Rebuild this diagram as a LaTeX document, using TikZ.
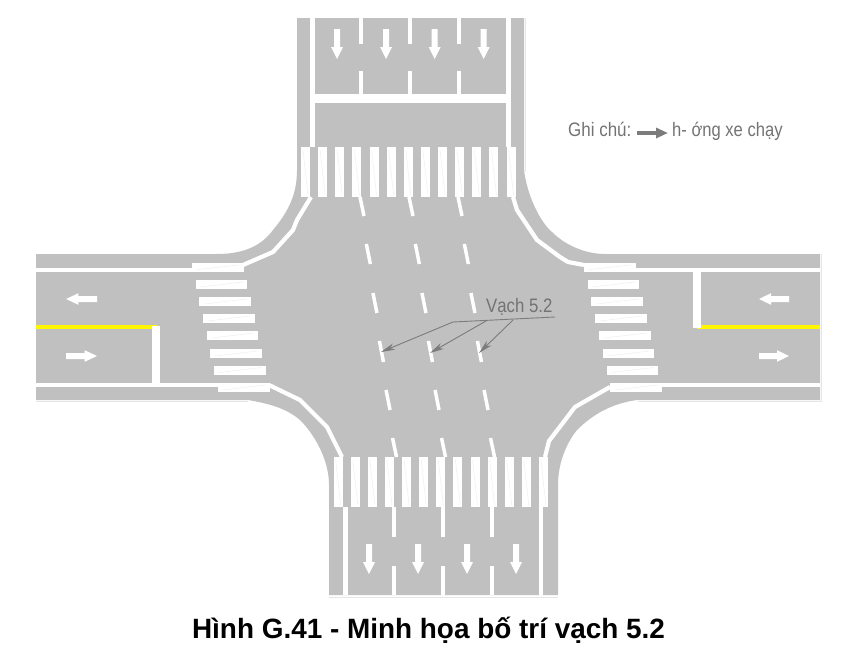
\documentclass[tikz,border=0pt]{standalone}
\usepackage{fontspec}
\usepackage{graphicx}
\setmainfont{Liberation Sans}
\usetikzlibrary{arrows.meta}
\definecolor{road}{HTML}{C0C0C0}
\definecolor{faint}{HTML}{E6E6E6}
\definecolor{fainter}{HTML}{F1F1F1}
\definecolor{lead}{HTML}{7C7C7C}
\definecolor{labelgray}{HTML}{737373}
\definecolor{yel}{HTML}{FFF600}
\tikzset{
  mark line/.style={draw=white,line width=4.4pt},
  lane line/.style={draw=white,line width=3.5pt},
  curb line/.style={draw=white,line width=4.2pt,line join=miter},
  yellow line/.style={draw=yel,line width=4pt},
  stripe/.style={fill=white,draw=none},
  faint line/.style={draw=faint,line width=.7pt},
  stripe line/.style={draw=fainter,line width=.6pt},
  lanearrow/.style={fill=white,draw=none},
  leader/.style={draw=lead,line width=.9pt},
  leader tip/.style={draw=lead,line width=.9pt,-{Stealth[length=14pt,width=6.5pt,inset=4pt,fill=lead]}},
  grey label/.style={text=labelgray,inner sep=0pt,font=\fontsize{19.5}{22}\selectfont},
}
\newcommand{\downarrowshape}[2]{\fill[lanearrow] (#1-3,#2) -- (#1+3,#2) -- (#1+3,#2+18) -- (#1+6,#2+18) -- (#1,#2+30) -- (#1-6,#2+18) -- (#1-3,#2+18) -- cycle;}
\newcommand{\horizarrowshape}[3]{\fill[lanearrow] (#1,#3-3) -- ({#1+(#2-#1)*0.6},#3-3) -- ({#1+(#2-#1)*0.6},#3-5.8) -- (#2,#3) -- ({#1+(#2-#1)*0.6},#3+5.8) -- ({#1+(#2-#1)*0.6},#3+3) -- (#1,#3+3) -- cycle;}
\begin{document}
\begin{tikzpicture}[x=1pt,y=-1pt]
\useasboundingbox (0,0) rectangle (860,651);
% road surface
\fill[road] (297,18) -- (524,18) -- (524,170)
  .. controls (527,195) and (540,222) .. (552,232)
  .. controls (565,245) and (585,254) .. (605,254)
  -- (820,254) -- (820,400) -- (637,400)
  .. controls (615,403) and (595,412) .. (577,430)
  .. controls (565,445) and (558,465) .. (558,485)
  -- (558,595) -- (329,595) -- (329,485)
  .. controls (329,460) and (315,435) .. (300,420)
  .. controls (285,407) and (265,403) .. (248,400)
  -- (36,400) -- (36,254) -- (217,254)
  .. controls (245,254) and (262,245) .. (273,230)
  .. controls (288,212) and (297,195) .. (297,170)
  -- cycle;
% faint outline
\draw[faint line] (525,18) -- (525,172);
\draw[faint line] (36,401) -- (248,401);
\draw[faint line] (638,401) -- (821,401) -- (821,254);
\draw[faint line] (329,597) -- (558,597);
% top arm
\draw[mark line] (312.5,18) -- (312.5,147);
\draw[mark line] (508.5,18) -- (508.5,147);
\foreach \x in {361,410,459}{
  \draw[lane line] (\x,18) -- (\x,44);
  \draw[lane line] (\x,71) -- (\x,94);
}
\fill[stripe] (312,94) rectangle (511,102.5);
\foreach \x in {337,386,434.7,483.7}{\downarrowshape{\x}{29}}
\foreach \i in {0,...,12}{
  \fill[stripe] ({301+17.13*\i},147) rectangle ({310+17.13*\i},197);
  \draw[stripe line] ({303+17.13*\i},150) -- ({308+17.13*\i},195);
}
% bottom arm
\foreach \i in {0,...,12}{
  \fill[stripe] ({333.7+17.1*\i},457) rectangle ({342.7+17.1*\i},507);
  \draw[stripe line] ({335.7+17.1*\i},460) -- ({340.7+17.1*\i},505);
}
\draw[mark line] (345.5,507) -- (345.5,595);
\draw[mark line] (541,507) -- (541,595);
\foreach \x in {394,443,492}{
  \draw[lane line] (\x,507) -- (\x,537);
  \draw[lane line] (\x,566) -- (\x,595);
}
\foreach \x in {369,418,467,516}{\downarrowshape{\x}{544}}
% left arm
\draw[mark line] (36,270) -- (193,270);
\draw[mark line] (36,385) -- (218,385);
\draw[yellow line] (36,327) -- (157,327);
\fill[stripe] (152,326) rectangle (160,384);
\horizarrowshape{97}{66}{299}
\horizarrowshape{66}{97}{356}
% right arm
\draw[mark line] (635,270) -- (820,270);
\draw[mark line] (660,385) -- (820,385);
\draw[yellow line] (697,327) -- (820,327);
\fill[stripe] (693,268) rectangle (701,328);
\horizarrowshape{789}{759}{299}
\horizarrowshape{759}{789}{356}
% side crossings
\foreach \xa/\ya/\yb in {192/263/271.5,195.5/280/289,199.3/297/306,203/314/323,206.6/331/340,210.4/349/358,214.2/365.5/374.5,218/383/392}{
  \fill[stripe] (\xa,\ya) rectangle (\xa+51.5,\yb);
  \draw[stripe line] (\xa+5,\yb-2) -- (\xa+47,\ya+2);
}
\foreach \xa/\ya/\yb in {584/263/271.5,587.5/280/289,591.3/297/306,595/314/323,599/331/340,602.7/349/358,606.5/365.5/374.5,610.3/383/392}{
  \fill[stripe] (\xa,\ya) rectangle (\xa+51.5,\yb);
  \draw[stripe line] (\xa+5,\yb-2) -- (\xa+47,\ya+2);
}
% curb lines at corners
\draw[curb line] (311,197) -- (297,220) -- (293,230) -- (273,252) -- (243,265);
\draw[curb line] (513,197) -- (517,210) -- (537,240) -- (560,257) -- (568,262) -- (584,265);
\draw[curb line] (269,385) -- (300,400) -- (327,427) -- (342,457);
\draw[curb line] (545,457) -- (549,441) -- (575,407) -- (610,387);
% slanted centre dashes
\foreach \d in {0,49,98}{
  \foreach \ya/\yb in {197/216,244/264,293/313,341/362,390/410,438/457}{
    \draw[lane line] ({360+\d+(\ya-197)*0.135},\ya) -- ({364+\d+(\ya-197)*0.135},\yb);
  }
}
% labels
\node[grey label,anchor=base west] (vach) at (486,312) {\scalebox{.86}[1]{Vạch 5.2}};
\coordinate (leadR) at (555,317);
\coordinate (leadM) at (453,322);
\coordinate (leadB1) at (486,321);
\coordinate (leadB2) at (513,320);
\coordinate (tipA) at (381,352);
\coordinate (tipB) at (430,353);
\coordinate (tipC) at (479,353);
\draw[leader] (leadR) -- (leadM);
\draw[leader tip] (leadM) -- (tipA);
\draw[leader tip] (leadB1) -- (tipB);
\draw[leader tip] (leadB2) -- (tipC);
\node[grey label,anchor=base west] (ghichu) at (568,136) {\scalebox{.87}[1]{Ghi chú:}};
\node[grey label,anchor=base west] (huong) at (672,136) {\scalebox{.85}[1]{h- ớng xe chạy}};
\coordinate (keyS) at (637,133);
\coordinate (keyE) at (668,133);
\draw[draw=lead,line width=3.8pt,-{Triangle[length=12pt,width=10pt,fill=lead]}] (keyS) -- (keyE);
\node[inner sep=0pt,anchor=center,font=\bfseries\fontsize{27.9}{32}\selectfont] (title) at (428.5,630) {Hình G.41 - Minh họa bố trí vạch 5.2};
\end{tikzpicture}
\end{document}
